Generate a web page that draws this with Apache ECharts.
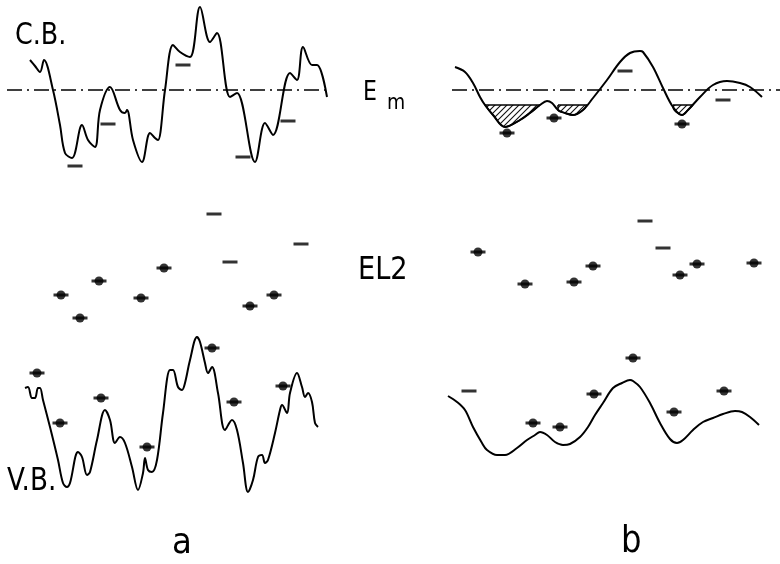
<!DOCTYPE html>
<html><head><meta charset="utf-8">
<script src="https://cdn.jsdelivr.net/npm/echarts@6/dist/echarts.min.js"></script>
<style>html,body{margin:0;padding:0;background:#fff}#c{width:780px;height:564px}</style>
</head><body><div id="c"></div>
<script>
// Panel a: conduction band edge (x, energy-depth)
const cbA = [[30,60],[35,66],[40,72],[44,60],[53,90],[60,125],[65,153],[72,158],[82,125],[88,140],[95,147],[100,110],[110,87],[120,110],[125,113],[127,110],[133,140],[142,162],[150,133],[155,138],[158,140],[165,90],[173,45],[180,52],[190,57],[200,7],[210,42],[217,33],[230,97],[237,93],[255,162],[265,123],[273,135],[290,73],[297,80],[303,47],[312,65],[317,65],[327,97]];
// Panel a: valence band edge
const vbA = [[25,388],[28,387],[32,398],[35,398],[38,388],[40,388],[43,400],[50,427],[58,460],[63,483],[67,487],[70,483],[78,452],[82,457],[87,475],[90,472],[97,440],[105,410],[110,420],[115,443],[120,437],[125,443],[132,467],[138,490],[143,473],[145,458],[148,470],[152,472],[157,460],[163,413],[170,370],[173,370],[178,387],[182,390],[185,383],[190,360],[197,337],[200,342],[205,363],[208,373],[212,367],[218,393],[225,430],[232,420],[237,430],[243,463],[248,492],[253,480],[258,457],[262,455],[265,463],[268,460],[275,433],[280,410],[282,405],[287,413],[290,393],[297,373],[302,387],[305,397],[308,393],[312,402],[315,423],[318,427]];
// Panel b: conduction band edge
const cbB = [[455,67],[465,72],[473,83],[480,97],[485,105],[493,115],[505,127],[520,120],[530,113],[540,105],[547,101],[552,103],[558,110],[565,113],[573,115],[583,110],[593,98],[607,80],[620,62],[630,53],[640,51],[643,52],[653,67],[663,88],[673,107],[682,115],[688,110],[700,97],[713,85],[727,81],[740,83],[750,87],[762,97]];
// Panel b: valence band edge
const vbB = [[448,396],[457,402],[465,410],[473,427],[482,443],[487,450],[497,455],[505,455],[517,448],[527,440],[535,435],[540,432],[547,435],[555,442],[563,445],[570,444],[580,437],[588,427],[595,415],[603,403],[613,388],[622,383],[630,380],[633,381],[640,387],[650,403],[660,423],[670,439],[677,443],[683,440],[693,430],[703,422],[713,418],[723,414],[735,411],[742,412],[750,417],[759,425]];
// Level Em
const emLevel = 90;
const emA = [[7,emLevel],[327,emLevel]];
const emB = [[452,emLevel],[780,emLevel]];
// Filled electron pockets (panel b) below the local level
const pocketLevel = 105;
const pocket1 = [[485,105],[493,115],[505,127],[520,120],[530,113],[540,105]];
const pocket2 = [[558,105],[558,110],[565,113],[573,115],[583,110],[587,105]];
const pocket3 = [[673,105],[673,107],[682,115],[688,110],[693,105]];
// Empty levels (dash only)
const emptyLevels = [[75,166],[108,124],[183,65],[243,157],[288,121],[214,214],[230,262],[301,244],
  [625,71],[723,100],[645,221],[663,248],[469,391]];
// Occupied levels (dot with dash)
const filledLevels = [[61,295],[80,318],[99,281],[141,298],[164,268],[250,306],[274,295],
  [37,373],[60,423],[101,398],[147,447],[212,348],[234,402],[283,386],
  [507,133],[554,118],[682,124],
  [478,252],[525,284],[574,282],[593,266],[680,275],[697,264],[754,263],
  [533,423],[560,427],[594,394],[633,358],[674,412],[724,391]];

function hatch(){
  const c=document.createElement('canvas'); c.width=6; c.height=6;
  const g=c.getContext('2d'); g.strokeStyle='#111'; g.lineWidth=1.1;
  g.beginPath(); g.moveTo(-1,7); g.lineTo(7,-1); g.moveTo(-1,1); g.lineTo(1,-1); g.moveTo(5,7); g.lineTo(7,5); g.stroke();
  return c;
}
const chart = echarts.init(document.getElementById('c'));
const curve = (d)=>({type:'line',data:d,smooth:0.35,symbol:'none',lineStyle:{color:'#000',width:2},silent:true,z:3});
const pocket = (d)=>({type:'line',data:d,smooth:0.35,symbol:'none',lineStyle:{color:'#000',width:1.5},
  areaStyle:{origin:pocketLevel,opacity:1,color:{image:hatch(),repeat:'repeat'}},silent:true,z:2});
const flat = (d)=>({type:'line',data:[[d[0][0],pocketLevel],[d[d.length-1][0],pocketLevel]],symbol:'none',lineStyle:{color:'#000',width:1.5},z:3});
const em = (d)=>({type:'line',data:d,symbol:'none',lineStyle:{color:'#000',width:1.5,type:[15,5,2,5]},z:1});
const fs = "'Liberation Sans Narrow','DejaVu Sans',sans-serif";
const txt = (t,x,y,size,sx)=>({type:'text',x:x,y:y,scaleX:sx,style:{text:t,font:size+'px '+fs,fill:'#000'}});
chart.setOption({
  animation:false,
  grid:{left:0,right:0,top:0,bottom:0},
  xAxis:{type:'value',min:0,max:780,show:false},
  yAxis:{type:'value',min:0,max:564,inverse:true,show:false},
  series:[
    em(emA), em(emB),
    curve(cbA), curve(vbA), curve(cbB), curve(vbB),
    pocket(pocket1), pocket(pocket2), pocket(pocket3),
    flat(pocket1), flat(pocket2), flat(pocket3),
    {type:'scatter',data:emptyLevels.concat(filledLevels),symbol:'rect',symbolSize:[15,3],itemStyle:{color:'#000'},z:4},
    {type:'scatter',data:filledLevels,symbol:'circle',symbolSize:9,itemStyle:{color:'#000'},z:5}
  ],
  graphic:[
    txt('C.B.',15,20,31,0.82),
    txt('V.B.',7,466,32,0.82),
    txt('E',363,80,26,0.85),
    txt('m',387,92,22,0.85),
    txt('EL2',358,255,32,0.85),
    txt('a',172,526,36,0.9),
    txt('b',621,523,38,0.85)
  ]
});
</script></body></html>
